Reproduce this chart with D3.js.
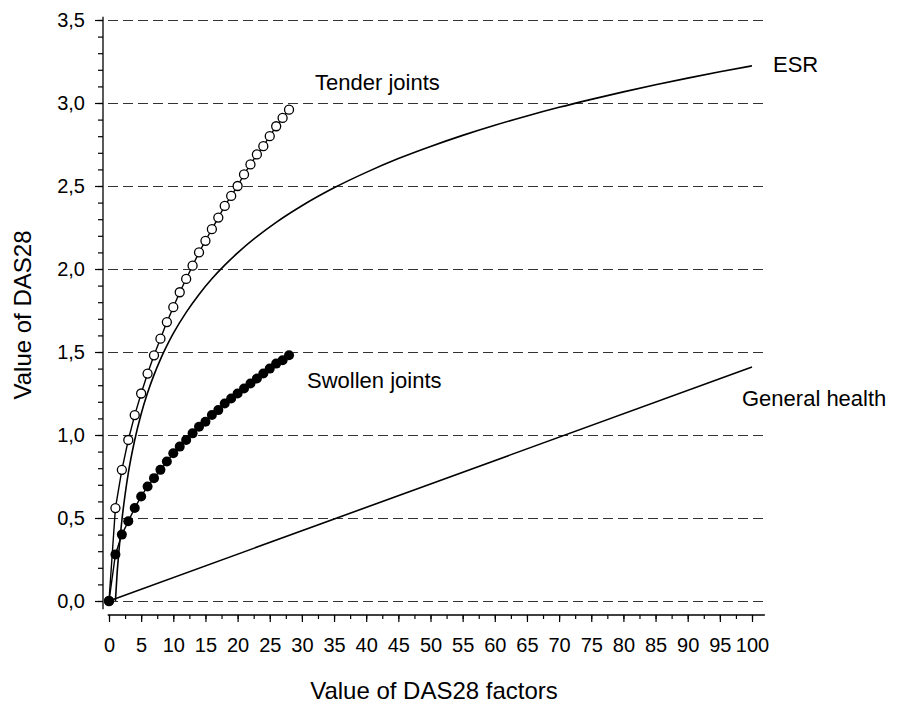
<!DOCTYPE html>
<html>
<head>
<meta charset="utf-8">
<script src="https://cdn.jsdelivr.net/npm/d3@7"></script>
<style>
  body { margin: 0; background: #fff; }
  text { font-family: "Liberation Sans", Arial, sans-serif; fill: #000; }
</style>
</head>
<body>
<script>
// joint counts 0..28 and the DAS28 contribution
const jointCounts = [0, 1, 2, 3, 4, 5, 6, 7, 8, 9, 10, 11, 12, 13, 14, 15, 16, 17, 18, 19, 20,
  21, 22, 23, 24, 25, 26, 27, 28];
const tenderDas = [0, 0.56, 0.79, 0.97, 1.12, 1.25, 1.37, 1.48, 1.58, 1.68, 1.77, 1.86, 1.94,
  2.02, 2.10, 2.17, 2.24, 2.31, 2.38, 2.44, 2.50, 2.57, 2.63, 2.69, 2.74, 2.80, 2.86, 2.91, 2.96];
const swollenDas = [0, 0.28, 0.40, 0.48, 0.56, 0.63, 0.69, 0.74, 0.79, 0.84, 0.89, 0.93, 0.97,
  1.01, 1.05, 1.08, 1.12, 1.15, 1.19, 1.22, 1.25, 1.28, 1.31, 1.34, 1.37, 1.40, 1.43, 1.45, 1.48];

// ESR curve
const esrValues = [1, 1.25, 1.5, 2, 2.5, 3, 4, 5, 6, 7, 8, 9, 10, 12, 14, 16, 18, 20, 23, 26,
  30, 35, 40, 45, 50, 55, 60, 65, 70, 75, 80, 85, 90, 95, 100];
const esrDas = [0, 0.16, 0.28, 0.485, 0.64, 0.77, 0.97, 1.127, 1.254, 1.362, 1.456, 1.538, 1.612,
  1.739, 1.847, 1.941, 2.023, 2.097, 2.195, 2.281, 2.381, 2.489, 2.582, 2.665, 2.738, 2.805,
  2.866, 2.922, 2.974, 3.022, 3.067, 3.110, 3.150, 3.188, 3.224];

// general health line
const ghValues = [0, 100];
const ghDas = [0, 1.41];

const xMajor = [0, 5, 10, 15, 20, 25, 30, 35, 40, 45, 50, 55, 60, 65, 70, 75, 80, 85, 90, 95, 100];
const yMajor = [0, 0.5, 1.0, 1.5, 2.0, 2.5, 3.0, 3.5];

const w = 899;
const h = 707;

const svg = d3.select('body')
  .append('svg')
  .attr('width', w)
  .attr('height', h);

const xScale = d3.scaleLinear().domain([0, 100]).range([109, 752]);
const yScale = d3.scaleLinear().domain([0, 3.5]).range([601, 20]);

const comma = d3.formatLocale({ decimal: ',', thousands: '.', grouping: [3], currency: ['', ''] })
  .format('.1f');

// dashed gridlines
svg.append('g')
  .attr('shape-rendering', 'crispEdges')
  .selectAll('line')
  .data(yMajor)
  .enter()
  .append('line')
  .attr('x1', xScale(-0.2))
  .attr('x2', xScale(102))
  .attr('y1', (d) => yScale(d) + 0.5)
  .attr('y2', (d) => yScale(d) + 0.5)
  .attr('stroke', '#333')
  .attr('stroke-width', 1)
  .attr('stroke-dasharray', '10,5');

// y axis (sits a little left of x = 0)
const yAxisX = xScale(0) - 6;
const yMinor = d3.range(0, 36).map((i) => i / 10);
svg.append('g')
  .attr('transform', `translate(${yAxisX},0)`)
  .call(d3.axisLeft(yScale).tickValues(yMinor).tickSize(5).tickFormat(''))
  .call((g) => g.select('.domain').remove());
svg.append('g')
  .attr('transform', `translate(${yAxisX},0)`)
  .call(d3.axisLeft(yScale).tickValues(yMajor).tickSize(8).tickPadding(10).tickFormat(comma))
  .call((g) => g.select('.domain').remove())
  .call((g) => g.selectAll('text').attr('font-size', 20).attr('font-family', '"Liberation Sans", Arial, sans-serif'));
svg.append('line')
  .attr('x1', yAxisX).attr('x2', yAxisX)
  .attr('y1', yScale(3.52)).attr('y2', yScale(-0.05))
  .attr('stroke', '#000').attr('stroke-width', 1.3);

// x axis (sits a little below y = 0)
const xAxisY = yScale(0) + 14;
const xMinor = d3.range(0, 41).map((i) => i * 2.5);
svg.append('g')
  .attr('transform', `translate(0,${xAxisY})`)
  .call(d3.axisBottom(xScale).tickValues(xMinor).tickSize(4).tickFormat(''))
  .call((g) => g.select('.domain').remove());
svg.append('g')
  .attr('transform', `translate(0,${xAxisY})`)
  .call(d3.axisBottom(xScale).tickValues(xMajor).tickSize(7).tickFormat(d3.format('d')))
  .call((g) => g.select('.domain').remove())
  .call((g) => g.selectAll('text')
    .attr('y', 37).attr('dy', 0)
    .attr('font-size', 20).attr('font-family', '"Liberation Sans", Arial, sans-serif'));
svg.append('line')
  .attr('x1', xScale(-0.2)).attr('x2', xScale(102))
  .attr('y1', xAxisY).attr('y2', xAxisY)
  .attr('stroke', '#000').attr('stroke-width', 1.3);
svg.selectAll('.tick line').attr('stroke-width', 1.2);

// axis titles
svg.append('text')
  .attr('x', 434)
  .attr('y', 699)
  .attr('text-anchor', 'middle')
  .attr('font-size', 24)
  .text('Value of DAS28 factors');
svg.append('text')
  .attr('transform', 'translate(31,315) rotate(-90)')
  .attr('text-anchor', 'middle')
  .attr('font-size', 24)
  .text('Value of DAS28');

// lines
const line = d3.line()
  .x((d) => xScale(d[0]))
  .y((d) => yScale(d[1]));

svg.append('path')
  .datum(ghValues.map((v, i) => [v, ghDas[i]]))
  .attr('d', line)
  .attr('fill', 'none')
  .attr('stroke', '#000')
  .attr('stroke-width', 1.6);

svg.append('path')
  .datum(esrValues.map((v, i) => [v, esrDas[i]]))
  .attr('d', line.curve(d3.curveMonotoneX))
  .attr('fill', 'none')
  .attr('stroke', '#000')
  .attr('stroke-width', 1.6);
line.curve(d3.curveLinear);

const tender = jointCounts.map((v, i) => [v, tenderDas[i]]);
const swollen = jointCounts.map((v, i) => [v, swollenDas[i]]);

svg.append('path')
  .datum(tender)
  .attr('d', line)
  .attr('fill', 'none')
  .attr('stroke', '#000')
  .attr('stroke-width', 1.4);
svg.append('g')
  .selectAll('circle')
  .data(tender)
  .enter()
  .append('circle')
  .attr('cx', (d) => xScale(d[0]))
  .attr('cy', (d) => yScale(d[1]))
  .attr('r', 4.5)
  .attr('fill', '#fff')
  .attr('stroke', '#000')
  .attr('stroke-width', 1.3);

svg.append('path')
  .datum(swollen)
  .attr('d', line)
  .attr('fill', 'none')
  .attr('stroke', '#000')
  .attr('stroke-width', 1.4);
svg.append('g')
  .selectAll('circle')
  .data(swollen)
  .enter()
  .append('circle')
  .attr('cx', (d) => xScale(d[0]))
  .attr('cy', (d) => yScale(d[1]))
  .attr('r', 5)
  .attr('fill', '#000');

// series labels
const labels = [
  { text: 'Tender joints', x: 315, y: 90 },
  { text: 'ESR', x: 773, y: 72 },
  { text: 'Swollen joints', x: 307, y: 388 },
  { text: 'General health', x: 742, y: 406 },
];
svg.append('g')
  .selectAll('text')
  .data(labels)
  .enter()
  .append('text')
  .attr('x', (d) => d.x)
  .attr('y', (d) => d.y)
  .attr('font-size', 22)
  .text((d) => d.text);
</script>
</body>
</html>
